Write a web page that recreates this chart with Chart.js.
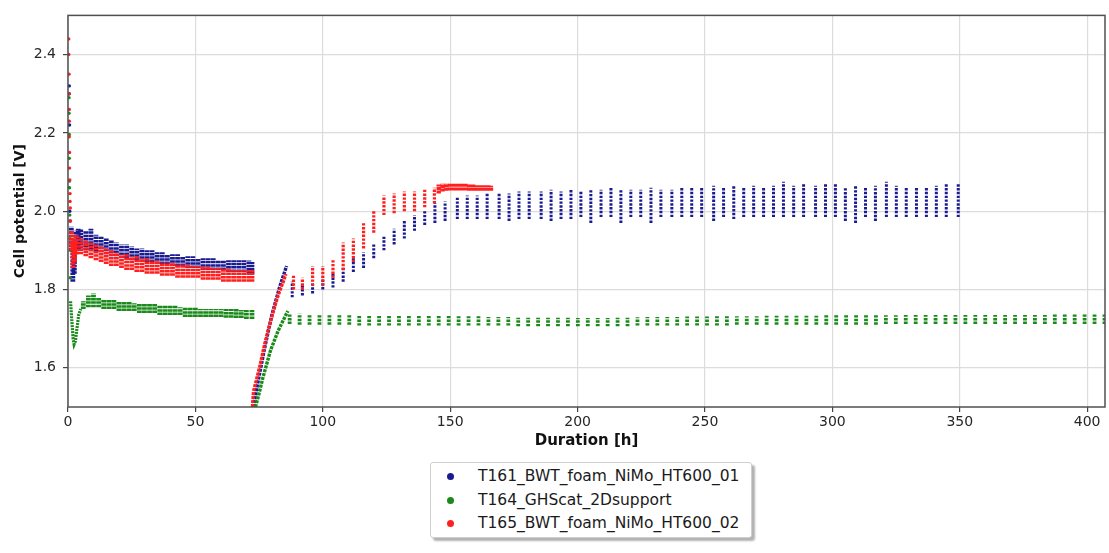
<!DOCTYPE html>
<html>
<head>
<meta charset="utf-8">
<script src="https://cdn.jsdelivr.net/npm/chart.js@4.4.1/dist/chart.umd.min.js"></script>
<style>
  body { margin: 0; background: #fff; font-family: "DejaVu Sans", sans-serif; }
  #wrap { position: relative; width: 1109px; height: 553px; }
  #legend { position: absolute; left: 430px; top: 462px; width: 322px; height: 76px;
            border: 1px solid #cfcfcf; border-radius: 3px; background: #fff;
            box-shadow: 3px 3px 2px rgba(0,0,0,0.3); box-sizing: border-box;
            font-size: 15.5px; color: #1a1a1a; }
  .row { position: absolute; left: 0; height: 20px; line-height: 20px; white-space: nowrap; }
  .dot { position: absolute; left: 16px; top: 6.5px; width: 7px; height: 7px; border-radius: 50%; }
  .lbl { position: absolute; left: 47px; }
</style>
</head>
<body>
<div id="wrap">
  <canvas id="c" width="1109" height="455"></canvas>
  <div id="legend"></div>
</div>
<script>
// axis ticks
const xTicks = [0, 50, 100, 150, 200, 250, 300, 350, 400];
const yTicks = [1.6, 1.8, 2.0, 2.2, 2.4];

const seriesNames = ['T161_BWT_foam_NiMo_HT600_01', 'T164_GHScat_2Dsupport', 'T165_BWT_foam_NiMo_HT600_02'];
const seriesColors = ['#1a1a92', '#1a8a1a', '#ff1f1f'];

// start-up spikes [h, V]
const blueSpike = [[0.5, 2.32], [0.5, 2.30], [0.6, 2.22], [0.7, 2.00], [0.8, 1.975]];
const greenSpike = [[0.4, 2.29], [0.4, 2.25], [0.5, 2.196], [0.5, 2.135], [0.6, 2.077], [0.6, 2.06], [0.7, 1.99], [0.8, 1.93], [0.9, 1.90], [0.9, 1.83]];
const redSpike = [[0.3, 2.44], [0.3, 2.40], [0.4, 2.35], [0.4, 2.30], [0.5, 2.26], [0.5, 2.23], [0.5, 2.19],
                  [0.6, 2.15], [0.6, 2.11], [0.7, 2.08], [0.8, 2.045], [0.8, 2.025], [0.9, 2.008], [1.0, 1.975]];

// green dip after start [h, V]
const greenDip = [[1.0, 1.77], [1.5, 1.72], [2.0, 1.675], [2.4, 1.66], [2.9, 1.668], [3.5, 1.70], [4.2, 1.735], [5.0, 1.75]];

// recovery ramps after the stop at ~72 h [h, V]
const blueRamp = [[72.8, 1.50], [74, 1.545], [75.5, 1.595], [77, 1.645], [78.5, 1.69], [80, 1.735], [81.5, 1.77], [83, 1.805], [84.5, 1.835], [85.8, 1.86]];
const greenRamp = [[73.6, 1.50], [75, 1.535], [76.5, 1.575], [78, 1.61], [79.5, 1.645], [81, 1.67], [82.5, 1.695], [84, 1.715], [85.5, 1.735], [86.3, 1.745]];
const redRamp = [[72.4, 1.50], [72.8, 1.54], [74, 1.57], [75.5, 1.61], [77, 1.655], [78.5, 1.695], [80, 1.73], [81.5, 1.765], [83, 1.795], [84.5, 1.82], [85.5, 1.84]];

// scatter bands during first 72 h: [h, low V, high V]
const blueBand = [
  [1.3, 1.90, 1.96], [1.9, 1.82, 1.90], [2.5, 1.84, 1.92], [3.2, 1.89, 1.95], [4, 1.90, 1.955],
  [5, 1.905, 1.955], [7, 1.90, 1.95], [9, 1.90, 1.955], [11, 1.895, 1.94], [13, 1.895, 1.935],
  [15, 1.89, 1.93], [17, 1.885, 1.925], [19, 1.885, 1.92], [21, 1.88, 1.915], [23, 1.88, 1.915],
  [25, 1.875, 1.91], [27, 1.875, 1.905], [29, 1.87, 1.905], [31, 1.87, 1.90], [33, 1.87, 1.90],
  [35, 1.865, 1.895], [37, 1.865, 1.895], [39, 1.865, 1.89], [41, 1.86, 1.89], [43, 1.86, 1.89],
  [45, 1.86, 1.885], [47, 1.855, 1.885], [49, 1.855, 1.885], [51, 1.855, 1.88], [53, 1.85, 1.88],
  [55, 1.85, 1.88], [57, 1.85, 1.88], [59, 1.85, 1.875], [61, 1.85, 1.875], [63, 1.845, 1.875],
  [65, 1.845, 1.875], [67, 1.845, 1.875], [69, 1.845, 1.875], [71, 1.84, 1.875], [72.2, 1.84, 1.87]
];
const greenBand = [
  [6, 1.75, 1.77], [8, 1.755, 1.785], [10, 1.755, 1.79], [12, 1.755, 1.78], [14, 1.75, 1.775],
  [16, 1.75, 1.775], [18, 1.75, 1.775], [20, 1.745, 1.77], [22, 1.745, 1.77], [24, 1.745, 1.77],
  [26, 1.745, 1.765], [28, 1.74, 1.765], [30, 1.74, 1.765], [32, 1.74, 1.765], [34, 1.74, 1.765],
  [36, 1.735, 1.76], [38, 1.735, 1.76], [40, 1.735, 1.76], [42, 1.735, 1.76], [44, 1.735, 1.755],
  [46, 1.73, 1.755], [48, 1.73, 1.755], [50, 1.73, 1.755], [52, 1.73, 1.75], [54, 1.73, 1.75],
  [56, 1.73, 1.75], [58, 1.73, 1.75], [60, 1.73, 1.75], [62, 1.728, 1.75], [64, 1.728, 1.75],
  [66, 1.727, 1.75], [68, 1.727, 1.748], [70, 1.725, 1.748], [72.2, 1.725, 1.748]
];
const redBand = [
  [1.4, 1.90, 1.95], [2.0, 1.855, 1.92], [2.6, 1.87, 1.93], [3.3, 1.89, 1.94], [4, 1.89, 1.935],
  [5, 1.89, 1.93], [7, 1.885, 1.925], [9, 1.88, 1.92], [11, 1.875, 1.915], [13, 1.87, 1.91],
  [15, 1.865, 1.905], [17, 1.86, 1.90], [19, 1.86, 1.895], [21, 1.855, 1.89], [23, 1.85, 1.89],
  [25, 1.85, 1.885], [27, 1.845, 1.885], [29, 1.845, 1.88], [31, 1.84, 1.88], [33, 1.84, 1.875],
  [35, 1.84, 1.875], [37, 1.835, 1.87], [39, 1.835, 1.87], [41, 1.835, 1.87], [43, 1.83, 1.865],
  [45, 1.83, 1.865], [47, 1.83, 1.865], [49, 1.83, 1.86], [51, 1.83, 1.86], [53, 1.825, 1.86],
  [55, 1.825, 1.86], [57, 1.825, 1.855], [59, 1.825, 1.855], [61, 1.82, 1.855], [63, 1.82, 1.855],
  [65, 1.82, 1.85], [67, 1.82, 1.85], [69, 1.82, 1.85], [71, 1.82, 1.85], [72.2, 1.82, 1.85]
];

// cycling stripes after restart: [h, low V, high V]
const blueCycles = [
  [88, 1.78, 1.82], [92, 1.785, 1.81], [96, 1.79, 1.815], [100, 1.80, 1.83], [104, 1.805, 1.845],
  [108, 1.82, 1.855], [112, 1.845, 1.88], [116, 1.855, 1.895], [120, 1.88, 1.915], [124, 1.90, 1.935],
  [128, 1.915, 1.955], [132, 1.93, 1.975], [136, 1.95, 1.99], [140, 1.965, 2.00], [144, 1.97, 2.02],
  [148, 1.975, 2.025], [152.8, 1.98, 2.035], [156.7, 1.98, 2.04], [160.6, 1.98, 2.04], [164.5, 1.98, 2.045],
  [169.2, 1.98, 2.045], [173.1, 1.975, 2.045], [177, 1.98, 2.05], [181, 1.98, 2.05], [185.7, 1.98, 2.05],
  [189.6, 1.975, 2.055], [193.5, 1.98, 2.05], [197.4, 1.98, 2.055], [201.3, 1.985, 2.05], [205.2, 1.97, 2.055],
  [209.2, 1.985, 2.055], [213.1, 1.985, 2.06], [217, 1.97, 2.055], [220.9, 1.985, 2.055], [224.8, 1.985, 2.055],
  [228.8, 1.97, 2.06], [232.7, 1.985, 2.055], [237, 1.985, 2.055], [240.9, 1.985, 2.06], [244.8, 1.985, 2.06],
  [248.7, 1.985, 2.06], [253.4, 1.975, 2.065], [257.3, 1.985, 2.06], [261.3, 1.98, 2.065], [265.2, 1.985, 2.06],
  [269.1, 1.985, 2.065], [273, 1.985, 2.06], [276.9, 1.985, 2.065], [280.8, 1.985, 2.075], [284.8, 1.985, 2.065],
  [288.7, 1.985, 2.07], [293.4, 1.985, 2.065], [297.3, 1.985, 2.07], [301.2, 1.985, 2.07], [305.1, 1.975, 2.06],
  [309.1, 1.97, 2.065], [313, 1.985, 2.06], [316.9, 1.975, 2.065], [321.2, 1.985, 2.075], [325.1, 1.985, 2.065],
  [329, 1.985, 2.06], [333, 1.985, 2.06], [336.9, 1.985, 2.06], [340.8, 1.985, 2.065], [344.7, 1.985, 2.07],
  [349.4, 1.985, 2.07]
];
const greenCycles = [
  [87.0, 1.712, 1.738], [90.9, 1.71, 1.738], [94.8, 1.71, 1.736], [98.7, 1.71, 1.736], [102.6, 1.71, 1.735],
  [106.5, 1.71, 1.735], [110.4, 1.71, 1.735], [114.3, 1.708, 1.735], [118.2, 1.708, 1.734], [122.1, 1.708, 1.734],
  [126.0, 1.708, 1.734], [129.9, 1.708, 1.733], [133.8, 1.708, 1.733], [137.7, 1.708, 1.733], [141.6, 1.708, 1.733],
  [145.5, 1.708, 1.733], [149.4, 1.708, 1.733], [153.3, 1.708, 1.732], [157.2, 1.708, 1.732], [161.1, 1.708, 1.732],
  [165.0, 1.708, 1.73], [168.9, 1.708, 1.73], [172.8, 1.708, 1.73], [176.7, 1.706, 1.728], [180.6, 1.706, 1.728],
  [184.5, 1.706, 1.728], [188.4, 1.706, 1.728], [192.3, 1.706, 1.728], [196.2, 1.706, 1.728], [200.1, 1.706, 1.727],
  [204.0, 1.706, 1.727], [207.9, 1.706, 1.727], [211.8, 1.706, 1.727], [215.7, 1.706, 1.728], [219.6, 1.706, 1.728],
  [223.5, 1.708, 1.729], [227.4, 1.708, 1.73], [231.3, 1.708, 1.73], [235.2, 1.708, 1.73], [239.1, 1.708, 1.73],
  [243.0, 1.708, 1.731], [246.9, 1.708, 1.731], [250.8, 1.708, 1.731], [254.7, 1.708, 1.732], [258.6, 1.708, 1.732],
  [262.5, 1.71, 1.732], [266.4, 1.71, 1.732], [270.3, 1.71, 1.732], [274.2, 1.71, 1.733], [278.1, 1.71, 1.733],
  [282.0, 1.71, 1.733], [285.9, 1.71, 1.733], [289.8, 1.71, 1.733], [293.7, 1.71, 1.733], [297.6, 1.71, 1.734],
  [301.5, 1.71, 1.734], [305.4, 1.71, 1.734], [309.3, 1.71, 1.734], [313.2, 1.71, 1.734], [317.1, 1.71, 1.734],
  [321.0, 1.712, 1.734], [324.9, 1.712, 1.734], [328.8, 1.712, 1.735], [332.7, 1.712, 1.735], [336.6, 1.712, 1.735],
  [340.5, 1.712, 1.735], [344.4, 1.712, 1.735], [348.3, 1.712, 1.735], [352.2, 1.712, 1.735], [356.1, 1.712, 1.735],
  [360.0, 1.712, 1.735], [363.9, 1.712, 1.735], [367.8, 1.712, 1.735], [371.7, 1.712, 1.735], [375.6, 1.712, 1.735],
  [379.5, 1.712, 1.735], [383.4, 1.712, 1.735], [387.3, 1.712, 1.736], [391.2, 1.712, 1.736], [395.1, 1.712, 1.736],
  [399.0, 1.712, 1.736], [402.9, 1.712, 1.736], [406.8, 1.712, 1.736]
];
const redCycles = [
  [88.5, 1.80, 1.835], [92, 1.80, 1.83], [96, 1.81, 1.86], [100, 1.81, 1.86], [104, 1.83, 1.875],
  [108, 1.85, 1.92], [112, 1.87, 1.93], [116, 1.905, 1.97], [120, 1.945, 2.00], [124, 1.99, 2.04],
  [128, 1.995, 2.045], [132, 2.00, 2.05], [136, 2.00, 2.05], [140, 2.01, 2.055], [143.8, 2.02, 2.06]
];
// plateau before the red test ends [h, low V, high V]
const redPlateau = [
  [145.5, 2.045, 2.068], [147, 2.05, 2.07], [148.5, 2.052, 2.071], [150, 2.053, 2.071], [151.5, 2.053, 2.071],
  [153, 2.053, 2.07], [154.5, 2.053, 2.07], [156, 2.053, 2.07], [157.5, 2.052, 2.068], [159, 2.052, 2.068],
  [160.5, 2.052, 2.066], [162, 2.052, 2.066], [163.5, 2.052, 2.066], [165, 2.052, 2.066], [166, 2.052, 2.065]
];

function stripes(list) {
  const out = [];
  list.forEach(s => { out.push({x: s[0], y: s[1]}, {x: s[0], y: s[2]}, {x: s[0], y: null}); });
  return out;
}
function pairs(list) { return list.map(p => ({x: p[0], y: p[1]})); }

function stripeSet(list, color, order, width, dash) {
  return {data: stripes(list), showLine: true, spanGaps: false, pointRadius: 0, borderColor: color,
          borderWidth: width, borderDash: dash, order};
}
function lineSet(list, color, order, width, dash) {
  return {data: pairs(list), showLine: true, pointRadius: 0, borderColor: color, borderWidth: width, borderDash: dash, order};
}
function pointSet(list, color, order) {
  return {data: pairs(list), pointRadius: 1.7, pointBackgroundColor: color, pointBorderWidth: 0, showLine: false, order};
}

const datasets = [
  pointSet(redSpike, seriesColors[2], 1),
  stripeSet(redBand, seriesColors[2], 1, 4.8, [2.5, 0.8]),
  lineSet(redRamp, seriesColors[2], 1, 3.4, [3, 1]),
  stripeSet(redCycles, seriesColors[2], 1, 3.2, [2.4, 1.4]),
  stripeSet(redPlateau, seriesColors[2], 1, 4.4, [3, 0.6]),

  pointSet(greenSpike, seriesColors[1], 2),
  lineSet(greenDip, seriesColors[1], 2, 3.2, [2, 1]),
  stripeSet(greenBand, seriesColors[1], 2, 4.8, [2.5, 0.8]),
  lineSet(greenRamp, seriesColors[1], 2, 3.4, [3, 1]),
  stripeSet(greenCycles, seriesColors[1], 2, 3.8, [2.4, 1.2]),

  pointSet(blueSpike, seriesColors[0], 3),
  stripeSet(blueBand, seriesColors[0], 3, 4.8, [2.5, 0.8]),
  lineSet(blueRamp, seriesColors[0], 3, 3.4, [3, 1]),
  stripeSet(blueCycles, seriesColors[0], 3, 3.0, [2.4, 1.4])
];

const framePlugin = {
  id: 'frame',
  afterDraw(chart) {
    const a = chart.chartArea, ctx = chart.ctx;
    ctx.save();
    ctx.strokeStyle = '#505050';
    ctx.lineWidth = 1.5;
    ctx.strokeRect(a.left, a.top, a.right - a.left, a.bottom - a.top);
    ctx.restore();
  }
};

Chart.defaults.font.family = '"DejaVu Sans", sans-serif';

new Chart(document.getElementById('c'), {
  type: 'scatter',
  data: {datasets},
  options: {
    responsive: false,
    animation: false,
    layout: {padding: {top: 14, right: 1, left: 0, bottom: 0}},
    plugins: {legend: {display: false}, tooltip: {enabled: false}},
    scales: {
      x: {
        type: 'linear', min: 0, max: 407,
        afterBuildTicks: s => { s.ticks = xTicks.map(v => ({value: v})); },
        afterFit: s => { s.height = 48; },
        ticks: {font: {size: 14}, color: '#262626', padding: 2, maxRotation: 0},
        grid: {color: '#dcdcdc', lineWidth: 1.2, tickColor: '#444', tickLength: 5},
        border: {display: false},
        title: {display: true, text: 'Duration [h]', color: '#111', font: {size: 15, weight: 'bold'}, padding: {top: 2, bottom: 5}}
      },
      y: {
        min: 1.5, max: 2.5,
        afterBuildTicks: s => { s.ticks = yTicks.map(v => ({value: v})); },
        afterFit: s => { s.width = 68; },
        ticks: {font: {size: 14}, color: '#262626', padding: 7, callback: v => v.toFixed(1)},
        grid: {color: '#dcdcdc', lineWidth: 1.2, tickColor: '#444', tickLength: 5},
        border: {display: false},
        title: {display: true, text: 'Cell potential [V]', color: '#111', font: {size: 14, weight: 'bold'}, padding: {top: 12, bottom: 0}}
      }
    }
  },
  plugins: [framePlugin]
});

// legend
const legend = document.getElementById('legend');
const rowCenters = [13, 37, 60];
seriesNames.forEach((name, i) => {
  const row = document.createElement('div');
  row.className = 'row';
  row.style.top = (rowCenters[i] - 10) + 'px';
  row.innerHTML = '<span class="dot" style="background:' + seriesColors[i] + '"></span><span class="lbl">' + name + '</span>';
  legend.appendChild(row);
});
</script>
</body>
</html>
